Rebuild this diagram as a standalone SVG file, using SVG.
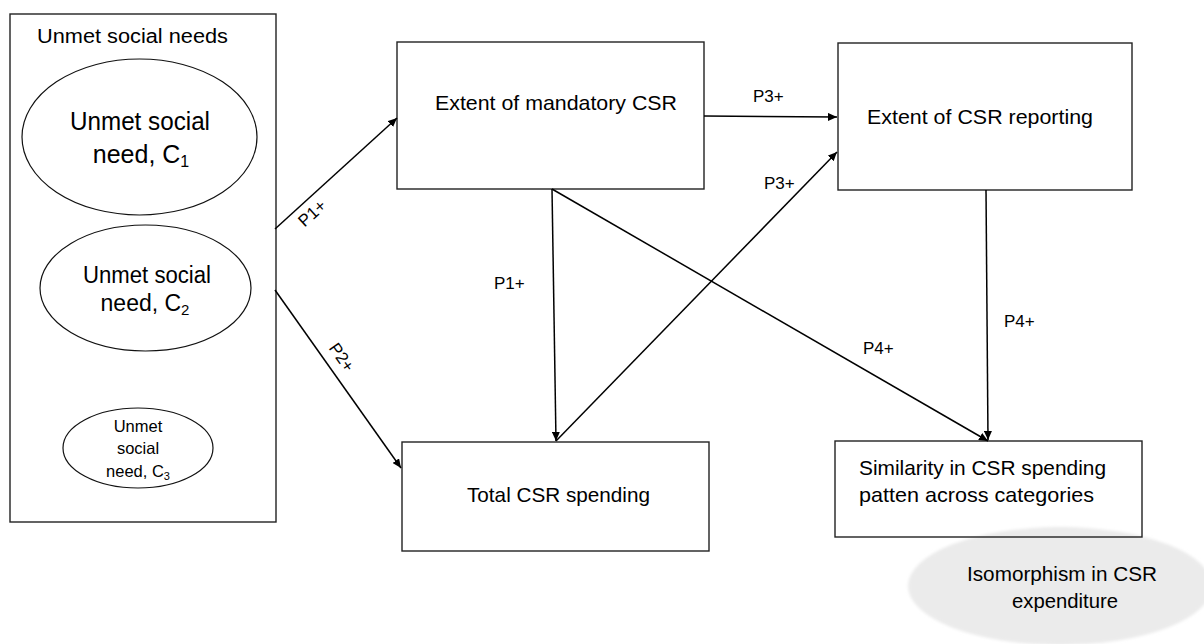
<svg xmlns="http://www.w3.org/2000/svg" width="1204" height="644" viewBox="0 0 1204 644">
  <style>
    text { font-family: "Liberation Sans", Arial, sans-serif; fill: #000; }
    .box { fill: none; stroke: #222; stroke-width: 1.4; }
    .ell { fill: #fff; stroke: #111; stroke-width: 1.2; }
    .conn { stroke: #000; stroke-width: 1.5; fill: none; marker-end: url(#arrow); }
    .lbl { font-size: 17px; }
    .bt { font-size: 21px; }
  </style>
  <defs>
    <marker id="arrow" markerUnits="userSpaceOnUse" markerWidth="10" markerHeight="8" refX="9" refY="4" orient="auto">
      <path d="M0,0 L9,4 L0,8 z" fill="#000"/>
    </marker>
    <filter id="soft" x="-10%" y="-10%" width="120%" height="120%">
      <feGaussianBlur stdDeviation="1.5"/>
    </filter>
  </defs>

  <g id="isomorphism">
    <ellipse cx="1060" cy="586" rx="152" ry="59" fill="#ebebeb" filter="url(#soft)"/>
    <text class="bt" x="1062" y="581" text-anchor="middle" textLength="190" lengthAdjust="spacingAndGlyphs">Isomorphism in CSR</text>
    <text class="bt" x="1065" y="608" text-anchor="middle" textLength="106" lengthAdjust="spacingAndGlyphs">expenditure</text>
  </g>

  <g id="unmet-needs">
    <rect class="box" x="10" y="14" width="266" height="508"/>
    <text x="37" y="43" font-size="20" textLength="191" lengthAdjust="spacingAndGlyphs">Unmet social needs</text>
  </g>
  <g id="need-c1">
    <ellipse class="ell" cx="139.5" cy="137" rx="117.5" ry="78"/>
    <text x="140" y="130" font-size="25" text-anchor="middle" textLength="140" lengthAdjust="spacingAndGlyphs">Unmet social</text>
    <text x="141" y="163" font-size="25" text-anchor="middle">need, C<tspan font-size="16" dy="4">1</tspan></text>
  </g>
  <g id="need-c2">
    <ellipse class="ell" cx="145.5" cy="288" rx="105.5" ry="63"/>
    <text x="147" y="283" font-size="23" text-anchor="middle" textLength="128" lengthAdjust="spacingAndGlyphs">Unmet social</text>
    <text x="145" y="311" font-size="23" text-anchor="middle">need, C<tspan font-size="15" dy="4">2</tspan></text>
  </g>
  <g id="need-c3">
    <ellipse class="ell" cx="138" cy="448" rx="75" ry="40"/>
    <text x="138" y="432" font-size="16.5" text-anchor="middle">Unmet</text>
    <text x="138" y="454" font-size="16.5" text-anchor="middle">social</text>
    <text x="138" y="477" font-size="16.5" text-anchor="middle">need, C<tspan font-size="11" dy="3">3</tspan></text>
  </g>

  <g id="mandatory-csr">
    <rect class="box" x="397" y="42" width="307" height="147"/>
    <text class="bt" x="435" y="110" textLength="242" lengthAdjust="spacingAndGlyphs">Extent of mandatory CSR</text>
  </g>
  <g id="csr-reporting">
    <rect class="box" x="838" y="43" width="294" height="147"/>
    <text class="bt" x="867" y="124" textLength="226" lengthAdjust="spacingAndGlyphs">Extent of CSR reporting</text>
  </g>
  <g id="total-spending">
    <rect class="box" x="402" y="442" width="307" height="109"/>
    <text class="bt" x="467" y="502" textLength="183" lengthAdjust="spacingAndGlyphs">Total CSR spending</text>
  </g>
  <g id="similarity">
    <rect class="box" x="835" y="441" width="307" height="96"/>
    <text class="bt" x="859" y="475" textLength="247" lengthAdjust="spacingAndGlyphs">Similarity in CSR spending</text>
    <text class="bt" x="859" y="502" textLength="235" lengthAdjust="spacingAndGlyphs">patten across categories</text>
  </g>

  <g id="connectors">
    <line class="conn" x1="275" y1="229" x2="397" y2="118"/>
    <line class="conn" x1="275" y1="290" x2="401" y2="468"/>
    <line class="conn" x1="552" y1="189" x2="556" y2="441"/>
    <line class="conn" x1="556" y1="441" x2="837" y2="152"/>
    <line class="conn" x1="704" y1="116" x2="837" y2="117"/>
    <line class="conn" x1="552" y1="189" x2="988" y2="441"/>
    <line class="conn" x1="986" y1="190" x2="988" y2="440"/>
    <text class="lbl" x="316" y="217.5" text-anchor="middle" transform="rotate(-42 316 217.5)">P1+</text>
    <text class="lbl" x="337" y="360.5" text-anchor="middle" transform="rotate(55 337 360.5)">P2+</text>
    <text class="lbl" x="494" y="289">P1+</text>
    <text class="lbl" x="753" y="102">P3+</text>
    <text class="lbl" x="764" y="189">P3+</text>
    <text class="lbl" x="863" y="354">P4+</text>
    <text class="lbl" x="1004" y="327">P4+</text>
  </g>
</svg>
